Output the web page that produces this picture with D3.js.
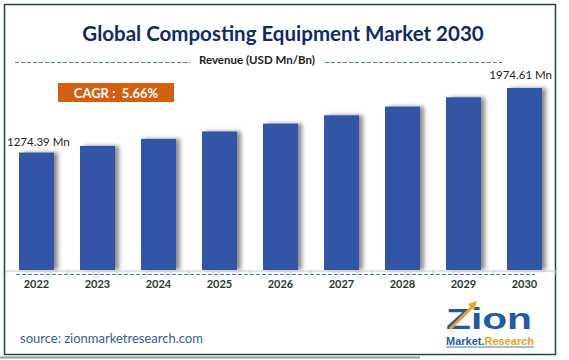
<!DOCTYPE html>
<html><head><meta charset="utf-8">
<script src="https://cdn.jsdelivr.net/npm/d3@7"></script>
<style>body{margin:0;background:#fff;}svg{display:block;}</style>
</head><body>
<script>
const years = ["2022","2023","2024","2025","2026","2027","2028","2029","2030"];
const revenue = [1274.39, 1346.5, 1422.8, 1503.4, 1588.5, 1678.4, 1773.4, 1873.8, 1974.61];
const valueLabels = ["1274.39 Mn", "1974.61 Mn"];
const title = "Global Composting Equipment Market 2030";
const subtitle = "Revenue (USD Mn/Bn)";
const cagr = "CAGR :  5.66%";
const source = "source: zionmarketresearch.com";

const W = 569, H = 360;
const svg = d3.select("body").append("svg").attr("width", W).attr("height", H);
const defs = svg.append("defs");
const f = defs.append("filter").attr("id","sh").attr("x","-20%").attr("y","-10%").attr("width","160%").attr("height","120%");
f.append("feDropShadow").attr("dx",4).attr("dy",0).attr("stdDeviation",2.2).attr("flood-color","#000").attr("flood-opacity",0.45);

svg.append("rect").attr("width",W).attr("height",H).attr("fill","#fff");
svg.append("line").attr("x1",0).attr("x2",420).attr("y1",357.5).attr("y2",357.5).attr("stroke","#9a9a9a").attr("stroke-width",2);
svg.append("rect").attr("x",4.5).attr("y",4.5).attr("width",551).attr("height",350)
  .attr("fill","none").attr("stroke","#1e4a3a").attr("stroke-width",1.5);

const font = "Lato, 'Open Sans', sans-serif";
svg.append("text").attr("x",283).attr("y",41).attr("text-anchor","middle")
  .attr("font-family",font).attr("font-weight","bold").attr("font-size",20.5).attr("fill","#0f2a6b").text(title);
svg.append("text").attr("x",257).attr("y",64).attr("text-anchor","middle")
  .attr("font-family",font).attr("font-weight","bold").attr("font-size",11.5).attr("fill","#222").text(subtitle);
svg.append("line").attr("x1",15).attr("x2",190).attr("y1",62.5).attr("y2",62.5).attr("stroke","#4a78c8").attr("stroke-dasharray","4,2");
svg.append("line").attr("x1",325).attr("x2",502).attr("y1",62.5).attr("y2",62.5).attr("stroke","#4a78c8").attr("stroke-dasharray","4,2");

const x = d3.scaleBand().domain(years).range([6, 555]).paddingInner(0.426).paddingOuter(0.213);
const y = d3.scaleLinear().domain([0, 2170]).range([270, 70]);

svg.append("g").selectAll("rect").data(years).join("rect")
  .attr("x", d => x(d)).attr("width", x.bandwidth())
  .attr("y", (d,i) => y(revenue[i])).attr("height", (d,i) => y(0) - y(revenue[i]))
  .attr("fill","#3256a5").attr("filter","url(#sh)");

const axis = d3.axisBottom(x).tickSize(0).tickFormat(d => d);
const ag = svg.append("g").attr("transform","translate(0,270.5)").call(axis);
ag.select(".domain").attr("stroke","#c8c8c8");
ag.selectAll("text").attr("dy",0).attr("y",17).attr("font-family",font).attr("font-weight","bold").attr("font-size",11).attr("fill","#1f3b2c");
const step = x.step();
svg.append("g").selectAll("line").data(d3.range(years.length+1)).join("line")
  .attr("x1", i => 6 + i*step).attr("x2", i => 6 + i*step).attr("y1",270).attr("y2",275).attr("stroke","#c8c8c8");
svg.append("line").attr("x1",16).attr("x2",535).attr("y1",274.5).attr("y2",274.5).attr("stroke","#4a78c8").attr("stroke-dasharray","4,2");

svg.append("text").attr("x",7).attr("y",y(revenue[0])-7).attr("font-family",font).attr("font-size",11.5).attr("fill","#222").text(valueLabels[0]);
svg.append("text").attr("x",552).attr("y",y(revenue[8])-9).attr("text-anchor","end").attr("font-family",font).attr("font-size",11.5).attr("fill","#222").text(valueLabels[1]);

svg.append("rect").attr("x",58).attr("y",83).attr("width",116).attr("height",19).attr("fill","#d3600f");
svg.append("text").attr("x",116).attr("y",97.5).attr("text-anchor","middle").attr("font-family",font).attr("font-weight","bold").attr("font-size",13).attr("fill","#fff").attr("xml:space","preserve").text(cagr);

svg.append("text").attr("x",20).attr("y",343).attr("font-family",font).attr("font-size",13).attr("fill","#2f5f9e").text(source);

// logo
const lg = svg.append("g").attr("transform","translate(446,300)");
lg.append("text").attr("x",0).attr("y",29).attr("font-family","'Liberation Sans', Arial, sans-serif").attr("font-weight","bold").attr("font-size",30).attr("fill","#1f5aa8").attr("textLength",86).attr("lengthAdjust","spacingAndGlyphs").text("Zion");
lg.append("path").attr("d","M4,29 L28,5").attr("stroke","#f0a020").attr("stroke-width",3);
lg.append("path").attr("d","M22,4 L31,1 L28,10 Z").attr("fill","#f0a020");
const t2 = lg.append("text").attr("x",0).attr("y",45).attr("font-family","'Liberation Sans', Arial, sans-serif").attr("font-weight","bold").attr("font-size",10).attr("textLength",88).attr("lengthAdjust","spacingAndGlyphs");
t2.append("tspan").attr("fill","#1f5aa8").text("Market.");
t2.append("tspan").attr("fill","#f0a020").text("Research");
lg.append("line").attr("x1",0).attr("x2",88).attr("y1",47).attr("y2",47).attr("stroke","#1f5aa8").attr("stroke-width",0.8);
</script>
</body></html>
